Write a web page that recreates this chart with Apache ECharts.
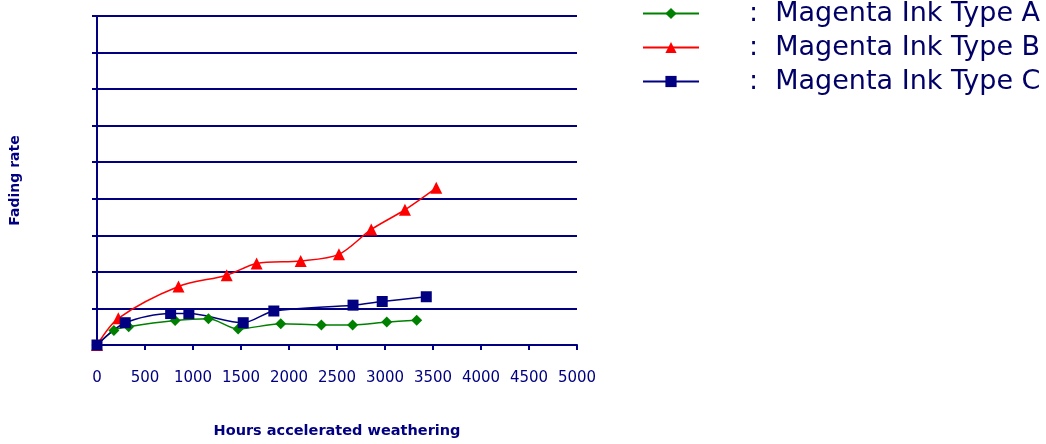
<!DOCTYPE html>
<html>
<head>
<meta charset="utf-8">
<script src="https://cdn.jsdelivr.net/npm/echarts@6/dist/echarts.min.js"></script>
<style>html,body{margin:0;padding:0;background:#fff}#c{width:1046px;height:444px}</style>
</head>
<body>
<div id="c"></div>
<script>
// Data (x: hours, y: fading rate)
const seriesNames = ['Magenta Ink Type A', 'Magenta Ink Type B', 'Magenta Ink Type C'];
const inkA = [[0,0],[176,0.40],[330,0.50],[814,0.67],[1161,0.72],[1470,0.44],[1914,0.58],[2337,0.55],[2663,0.55],[3018,0.63],[3330,0.68]];
const inkB = [[0,0],[222,0.73],[849,1.60],[1351,1.91],[1663,2.23],[2122,2.30],[2520,2.48],[2857,3.16],[3208,3.70],[3534,4.30]];
const inkC = [[0,0],[294,0.61],[767,0.86],[957,0.86],[1523,0.61],[1842,0.93],[2667,1.09],[2971,1.19],[3430,1.32]];
const xTicks = [0,500,1000,1500,2000,2500,3000,3500,4000,4500,5000];

const navy = '#000080';
const chart = echarts.init(document.getElementById('c'), null, {renderer:'canvas'});
const mk = (name, data, color, symbol, size) => ({
  name, type:'line', data, smooth:0.3, symbol, symbolSize:size, showSymbol:true,
  lineStyle:{color, width:1.5}, itemStyle:{color, borderWidth:0}, z:3
});
chart.setOption({
  animation:false,
  grid:{left:97, right:469, top:16, bottom:94, containLabel:false},
  legend:{
    orient:'vertical', left:642, top:0, padding:0, itemWidth:56, itemHeight:14, itemGap:7,
    data:seriesNames,
    formatter: n => ':  ' + n,
    textStyle:{fontFamily:'DejaVu Sans', fontSize:27, color:'#000066', lineHeight:26, padding:[0,0,0,45]}
  },
  xAxis:{
    type:'value', min:0, max:5000, interval:500,
    name:'Hours accelerated weathering', nameLocation:'middle', nameGap:79,
    nameTextStyle:{fontFamily:'DejaVu Sans', fontWeight:'bold', fontSize:14.5, color:navy},
    axisLine:{show:true, lineStyle:{color:navy, width:2}},
    axisTick:{show:true, length:5, lineStyle:{color:navy, width:2}},
    axisLabel:{fontFamily:'DejaVu Sans', fontSize:15, color:navy, margin:26,
      formatter: v => xTicks.includes(v) ? String(v) : ''},
    splitLine:{show:false}
  },
  yAxis:{
    type:'value', min:0, max:9, interval:1,
    name:'Fading rate', nameLocation:'middle', nameGap:75, nameRotate:90,
    nameTextStyle:{fontFamily:'DejaVu Sans', fontWeight:'bold', fontSize:14, color:navy},
    axisLine:{show:true, lineStyle:{color:navy, width:2}},
    axisTick:{show:true, length:5, lineStyle:{color:navy, width:2}},
    axisLabel:{show:false},
    splitLine:{show:true, lineStyle:{color:navy, width:2}}
  },
  series:[
    mk(seriesNames[0], inkA, '#008000', 'diamond', 11),
    mk(seriesNames[1], inkB, '#ff0000', 'triangle', 12),
    mk(seriesNames[2], inkC, navy, 'rect', 11)
  ]
});
</script>
</body>
</html>
